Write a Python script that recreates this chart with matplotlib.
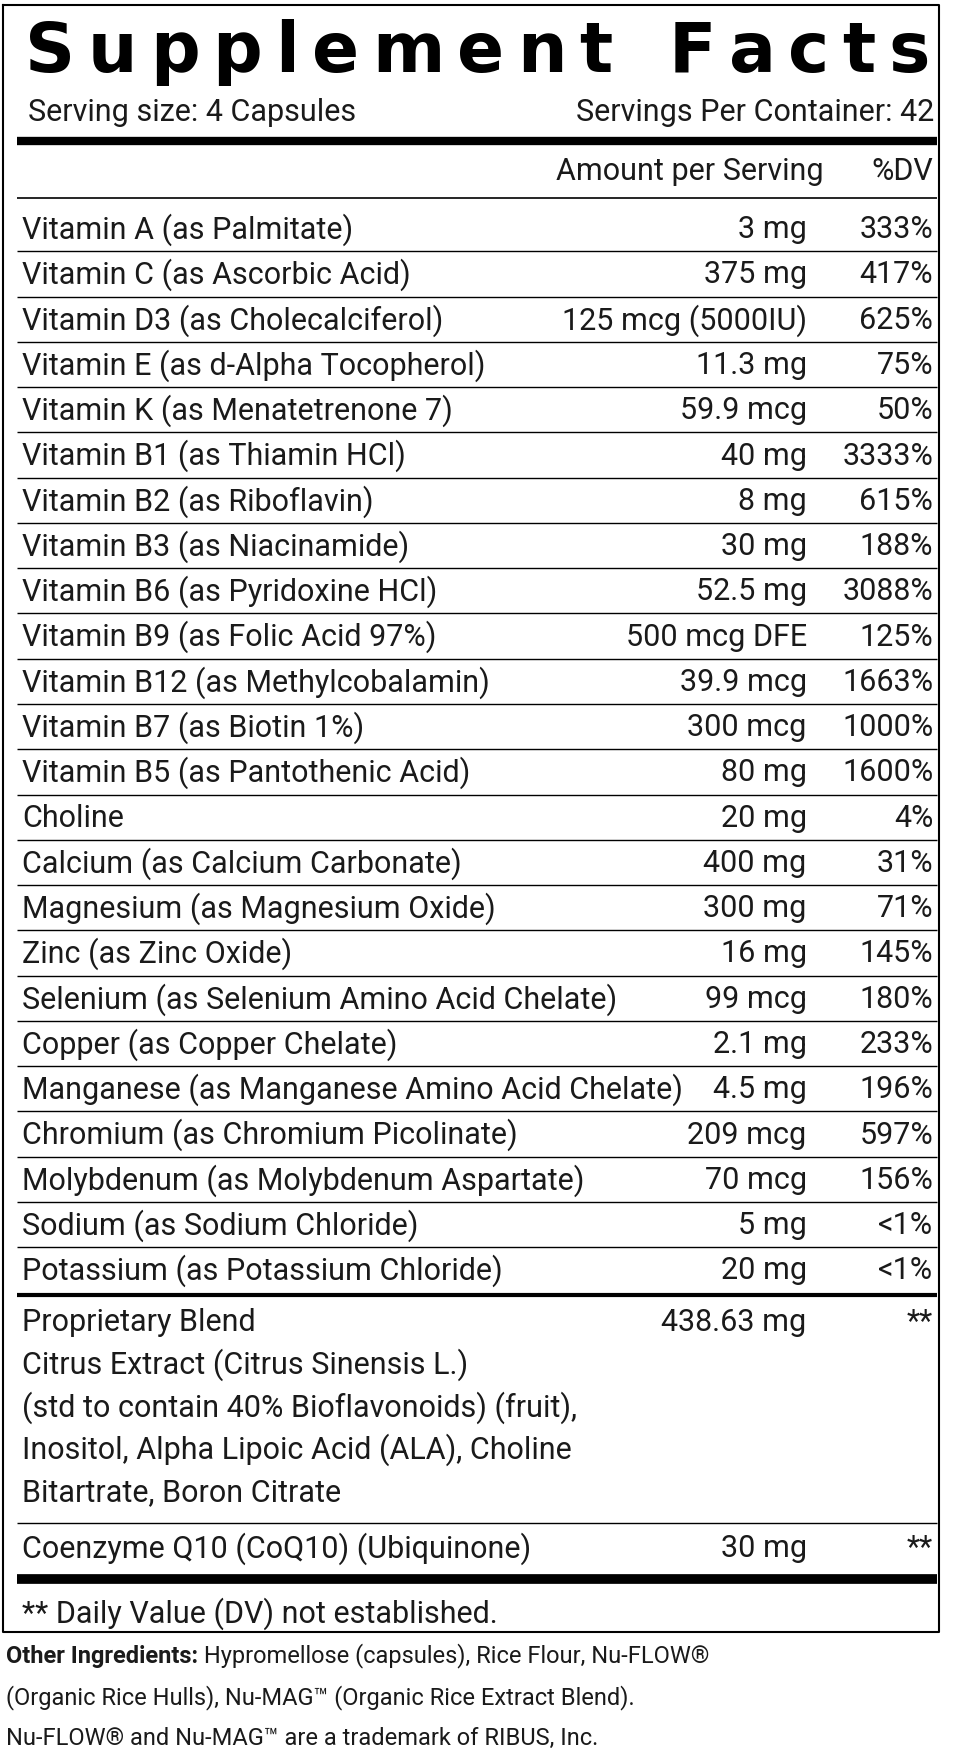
import matplotlib
matplotlib.use("Agg")
import matplotlib.pyplot as plt

title = "Supplement Facts"
serving_size = "Serving size: 4 Capsules"
servings = "Servings Per Container: 42"
nutrients = ["Vitamin A (as Palmitate)", "Vitamin C (as Ascorbic Acid)", "Vitamin D3 (as Cholecalciferol)",
             "Vitamin E (as d-Alpha Tocopherol)", "Vitamin K (as Menatetrenone 7)", "Vitamin B1 (as Thiamin HCl)",
             "Vitamin B2 (as Riboflavin)", "Vitamin B3 (as Niacinamide)", "Vitamin B6 (as Pyridoxine HCl)",
             "Vitamin B9 (as Folic Acid 97%)", "Vitamin B12 (as Methylcobalamin)", "Vitamin B7 (as Biotin 1%)",
             "Vitamin B5 (as Pantothenic Acid)", "Choline", "Calcium (as Calcium Carbonate)",
             "Magnesium (as Magnesium Oxide)", "Zinc (as Zinc Oxide)", "Selenium (as Selenium Amino Acid Chelate)",
             "Copper (as Copper Chelate)", "Manganese (as Manganese Amino Acid Chelate)",
             "Chromium (as Chromium Picolinate)", "Molybdenum (as Molybdenum Aspartate)",
             "Sodium (as Sodium Chloride)", "Potassium (as Potassium Chloride)"]
amounts = ["3 mg", "375 mg", "125 mcg (5000IU)", "11.3 mg", "59.9 mcg", "40 mg", "8 mg", "30 mg", "52.5 mg",
           "500 mcg DFE", "39.9 mcg", "300 mcg", "80 mg", "20 mg", "400 mg", "300 mg", "16 mg", "99 mcg",
           "2.1 mg", "4.5 mg", "209 mcg", "70 mcg", "5 mg", "20 mg"]
dvs = ["333%", "417%", "625%", "75%", "50%", "3333%", "615%", "188%", "3088%", "125%", "1663%", "1000%",
       "1600%", "4%", "31%", "71%", "145%", "180%", "233%", "196%", "597%", "156%", "<1%", "<1%"]
blend_lines = ["Proprietary Blend", "Citrus Extract (Citrus Sinensis L.)",
               "(std to contain 40% Bioflavonoids) (fruit),", "Inositol, Alpha Lipoic Acid (ALA), Choline",
               "Bitartrate, Boron Citrate"]
blend_amount, blend_dv = "438.63 mg", "**"
coq_name, coq_amount, coq_dv = "Coenzyme Q10 (CoQ10) (Ubiquinone)", "30 mg", "**"
footnote = "** Daily Value (DV) not established."
other_bold = "Other Ingredients:"
other_lines = [" Hypromellose (capsules), Rice Flour, Nu-FLOW\u00ae",
               "(Organic Rice Hulls), Nu-MAG\u2122 (Organic Rice Extract Blend).",
               "Nu-FLOW\u00ae and Nu-MAG\u2122 are a trademark of RIBUS, Inc."]

W, H = 855, 1569
fig = plt.figure(figsize=(9.58, 17.58), dpi=100)
ax = fig.add_axes([0, 0, 1, 1])
ax.set_xlim(0, W); ax.set_ylim(H, 0); ax.axis("off")
F = "Roboto"
fs = 22
col = "#1a1a1a"

def T(x, y, s, ha="left", size=fs, **kw):
    ax.text(x, y, s, ha=ha, va="center", fontsize=size, family=F, color=col, **kw)

def L(y, lw, x0=15, x1=836):
    ax.plot([x0, x1], [y, y], color="black", lw=lw, solid_capstyle="butt")

ax.plot([3, 838, 838, 3, 3], [5, 5, 1457, 1457, 5], color="black", lw=1.5)

# title: proportional letters with equal extra tracking, spanning 22..830
fig.canvas.draw()
r = fig.canvas.get_renderer()
inv = ax.transData.inverted()
widths = []
for ch in title:
    t = ax.text(0, 0, ch if ch != " " else "n", fontsize=50, family="DejaVu Sans", weight="heavy")
    bb = t.get_window_extent(renderer=r)
    widths.append(inv.transform((bb.x1, 0))[0] - inv.transform((bb.x0, 0))[0])
    t.remove()
widths = [w * (0.6 if c == " " else 1) for w, c in zip(widths, title)]
gap = (830 - 22 - sum(widths)) / (len(title) - 1)
x = 22
for ch, w in zip(title, widths):
    if ch != " ":
        ax.text(x, 47, ch, ha="left", va="center", fontsize=50, family="DejaVu Sans",
                weight="heavy", color="black")
    x += w + gap

T(25, 100, serving_size)
T(834, 100, servings, ha="right")
L(127, 6)
T(735, 153, "Amount per Serving", ha="right")
T(833, 153, "%DV", ha="right")
L(178, 1.2)

y0, step = 205, 40.4
for i, (nm, am, dv) in enumerate(zip(nutrients, amounts, dvs)):
    y = y0 + i * step
    T(20, y, nm); T(720, y, am, ha="right"); T(833, y, dv, ha="right")
    if i < len(nutrients) - 1:
        L(y + step / 2, 1.0)
L(1157, 3)
for j, s in enumerate(blend_lines):
    T(20, 1180 + j * 38, s)
T(720, 1180, blend_amount, ha="right"); T(833, 1180, blend_dv, ha="right")
L(1360, 1.0)
T(20, 1382, coq_name); T(720, 1382, coq_amount, ha="right"); T(833, 1382, coq_dv, ha="right")
L(1410, 7)
T(20, 1440, footnote)

t = ax.text(5, 1478, other_bold, ha="left", va="center", fontsize=17, family=F, weight="bold", color=col)
fig.canvas.draw()
bb = t.get_window_extent()
xe = ax.transData.inverted().transform((bb.x1, bb.y0))[0]
ax.text(xe, 1478, other_lines[0], ha="left", va="center", fontsize=17, family=F, color=col)
for j, s in enumerate(other_lines[1:]):
    ax.text(5, 1515 + j * 37, s, ha="left", va="center", fontsize=17, family=F, color=col)

fig.savefig("out.png", dpi=100, facecolor="white")
